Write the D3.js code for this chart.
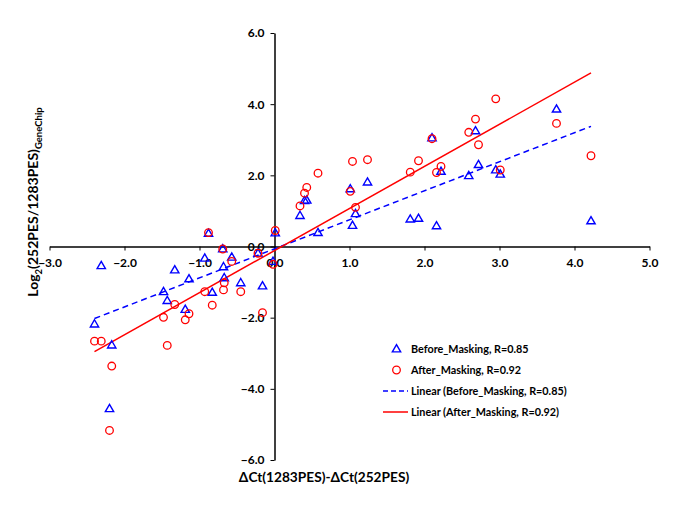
<!DOCTYPE html>
<html>
<head>
<meta charset="utf-8">
<script src="https://cdn.jsdelivr.net/npm/d3@7"></script>
<style>
  body { margin: 0; background: #fff; }
  svg { font-family: Lato, "Open Sans", sans-serif; font-weight: 700; }
</style>
</head>
<body>
<svg id="chart" width="685" height="513"></svg>
<script>
// deltaCt(1283PES)-deltaCt(252PES) for each gene
const dCt = [-2.40, -2.31, -2.17, -2.20, -1.48, -1.43, -1.33, -1.19, -1.14, -0.93,
             -0.83, -0.88, -0.69, -0.68, -0.67, -0.57, -0.45, -0.22, -0.16, -0.02,
              0.01,  0.34,  0.40,  0.43,  0.58,  1.01,  1.04,  1.08,  1.24,  1.81,
              1.92,  2.10,  2.16,  2.22,  2.59,  2.68,  2.72,  2.95,  3.01,  3.76, 4.22];
// log2 ratio from the GeneChip, before masking
const beforeMasking = [-2.18, -0.54, -2.77, -4.56, -1.27, -1.52, -0.66, -1.77, -0.91, -0.33,
                       -1.29,  0.37, -0.07, -0.57, -0.88, -0.30, -1.02, -0.19, -1.11, -0.42,
                        0.38,  0.87,  1.29,  1.30,  0.39,  1.62,  0.59,  0.92,  1.81,  0.77,
                        0.79,  3.05,  0.58,  2.11,  1.99,  3.25,  2.30,  2.15,  2.03,  3.86, 0.72];
// ... and after masking
const afterMasking = [-2.66, -2.66, -3.36, -5.17, -1.99, -2.78, -1.63, -2.06, -1.89, -1.27,
                      -1.65,  0.39, -0.07, -1.22, -1.02, -0.42, -1.27, -0.19, -1.86, -0.50,
                       0.45,  1.14,  1.50,  1.66,  2.06,  1.55,  2.39,  1.10,  2.44,  2.09,
                       2.41,  3.03,  2.08,  2.25,  3.21,  3.58,  2.86,  4.15,  2.15,  3.46, 2.55];

const xTicks = [-3, -2, -1, 0, 1, 2, 3, 4, 5];
const yTicks = [-6, -4, -2, 0, 2, 4, 6];

const blue = "#0000ff", red = "#ff0000";

const svg = d3.select("#chart");

const x = d3.scaleLinear().domain([-3, 5]).range([49.5, 649.5]);
const y = d3.scaleLinear().domain([-6, 6]).range([460, 33]);

// axes cross at zero
svg.append("g")
    .attr("transform", `translate(0,${y(0)})`)
    .call(d3.axisBottom(x).tickValues(xTicks).tickFormat(d3.format(".1f"))
        .tickSizeInner(4).tickSizeOuter(0).tickPadding(8))
    .call(g => g.select(".domain").attr("stroke-width", 1.5))
    .call(g => g.selectAll("text").attr("font-size", 12).attr("font-weight", 700)
        .attr("font-family", "Lato, sans-serif"));

svg.append("g")
    .attr("transform", `translate(${x(0)},0)`)
    .call(d3.axisLeft(y).tickValues(yTicks).tickFormat(d3.format(".1f"))
        .tickSizeInner(4).tickSizeOuter(0).tickPadding(6))
    .call(g => g.select(".domain").attr("stroke-width", 1.5))
    .call(g => g.selectAll("text").attr("font-size", 12).attr("font-weight", 700)
        .attr("font-family", "Lato, sans-serif"));

// least squares trend line
function fit(xs, ys) {
  const mx = d3.mean(xs), my = d3.mean(ys);
  let sxy = 0, sxx = 0;
  xs.forEach((v, i) => { sxy += (v - mx) * (ys[i] - my); sxx += (v - mx) * (v - mx); });
  const b = sxy / sxx;
  return { b: b, a: my - b * mx };
}
const ext = d3.extent(dCt);
const line = d3.line().x(d => x(d[0])).y(d => y(d[1]));

const fb = fit(dCt, beforeMasking);
const fa = fit(dCt, afterMasking);

svg.append("path")
    .datum(ext.map(v => [v, fb.a + fb.b * v]))
    .attr("d", line)
    .attr("fill", "none").attr("stroke", blue).attr("stroke-width", 1.5)
    .attr("stroke-dasharray", "6,4");

svg.append("path")
    .datum(ext.map(v => [v, fa.a + fa.b * v]))
    .attr("d", line)
    .attr("fill", "none").attr("stroke", red).attr("stroke-width", 1.5);

const tri = d3.symbol().type(d3.symbolTriangle).size(30);

svg.append("g").selectAll("path")
    .data(dCt)
  .enter().append("path")
    .attr("d", tri)
    .attr("transform", (d, i) => `translate(${x(d)},${y(beforeMasking[i]) + 0.5})`)
    .attr("fill", "none").attr("stroke", blue).attr("stroke-width", 1.4);

svg.append("g").selectAll("circle")
    .data(dCt)
  .enter().append("circle")
    .attr("cx", d => x(d))
    .attr("cy", (d, i) => y(afterMasking[i]))
    .attr("r", 3.8)
    .attr("fill", "none").attr("stroke", red).attr("stroke-width", 1.3);

// legend
const legendItems = [
  { label: "Before_Masking, R=0.85", kind: "tri" },
  { label: "After_Masking, R=0.92", kind: "circle" },
  { label: "Linear (Before_Masking, R=0.85)", kind: "dash" },
  { label: "Linear (After_Masking, R=0.92)", kind: "solid" }
];
const legend = svg.append("g").attr("transform", "translate(383,349)");
legendItems.forEach((item, i) => {
  const g = legend.append("g").attr("transform", `translate(0,${i * 21})`);
  if (item.kind === "tri") {
    g.append("path").attr("d", tri).attr("transform", "translate(13.5,0.5)")
      .attr("fill", "none").attr("stroke", blue).attr("stroke-width", 1.4);
  } else if (item.kind === "circle") {
    g.append("circle").attr("cx", 13.5).attr("cy", 0).attr("r", 3.8)
      .attr("fill", "none").attr("stroke", red).attr("stroke-width", 1.3);
  } else {
    g.append("line").attr("x1", 0).attr("x2", 25).attr("y1", 0).attr("y2", 0)
      .attr("stroke", item.kind === "dash" ? blue : red).attr("stroke-width", 1.5)
      .attr("stroke-dasharray", item.kind === "dash" ? "5,3" : null);
  }
  g.append("text").attr("x", 28).attr("y", 4).attr("font-size", 10.8).text(item.label);
});

// axis titles
svg.append("text")
    .attr("x", 324).attr("y", 482)
    .attr("text-anchor", "middle").attr("font-size", 13.7)
    .text("ΔCt(1283PES)-ΔCt(252PES)");

const yt = svg.append("text")
    .attr("transform", "translate(38,202) rotate(-90)")
    .attr("text-anchor", "middle").attr("font-size", 14);
yt.append("tspan").text("Log");
yt.append("tspan").attr("font-size", 9.5).attr("dy", 4).text("2");
yt.append("tspan").attr("dy", -4).text("(252PES/1283PES)");
yt.append("tspan").attr("font-size", 9.5).attr("dy", 4).text("GeneChip");
</script>
</body>
</html>
